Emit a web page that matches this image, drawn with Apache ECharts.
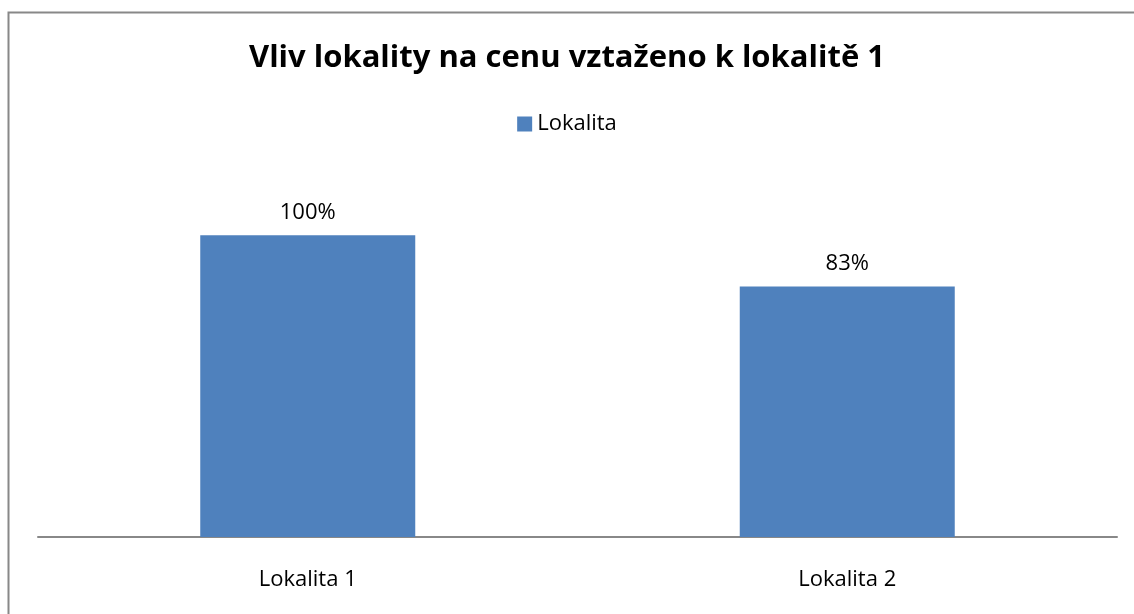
<!DOCTYPE html>
<html>
<head>
<meta charset="utf-8">
<script src="https://cdn.jsdelivr.net/npm/echarts@6/dist/echarts.min.js"></script>
<style>
  html, body { margin: 0; padding: 0; background: #fff; }
  #chart { width: 1134px; height: 614px; }
</style>
</head>
<body>
<div id="chart"></div>
<script>
const categories = ['Lokalita 1', 'Lokalita 2']
const values = [1.00, 0.83]
const seriesName = 'Lokalita'

const chart = echarts.init(document.getElementById('chart'))

const fontFamily = '"Open Sans", "Noto Sans", sans-serif'

const option = {
  animation: false,
  title: {
    text: 'Vliv lokality na cenu vztaženo k lokalitě 1',
    left: 'center',
    top: 38,
    textStyle: {
      fontFamily: fontFamily,
      fontSize: 31,
      fontWeight: 'bold',
      color: '#000'
    }
  },
  legend: {
    data: [seriesName],
    top: 108,
    left: 'center',
    icon: 'rect',
    itemWidth: 15,
    itemHeight: 15,
    itemGap: 8,
    textStyle: {
      fontFamily: fontFamily,
      fontSize: 22,
      color: '#000'
    }
  },
  graphic: [{
    type: 'rect',
    shape: { x: 8.5, y: 12.5, width: 1300, height: 800 },
    style: { fill: 'none', stroke: '#888', lineWidth: 2 },
    silent: true
  }],
  grid: {
    left: 38,
    right: 17,
    top: 175,
    bottom: 77
  },
  xAxis: {
    type: 'category',
    data: categories,
    axisLine: { lineStyle: { color: '#888', width: 2 } },
    axisTick: { show: false },
    axisLabel: {
      fontFamily: fontFamily,
      fontSize: 22,
      color: '#000',
      margin: 32
    }
  },
  yAxis: {
    type: 'value',
    min: 0,
    max: 1.2,
    show: false
  },
  series: [{
    name: seriesName,
    type: 'bar',
    data: values,
    barWidth: 215,
    itemStyle: { color: '#4f81bd' },
    label: {
      show: true,
      position: 'top',
      distance: 12,
      fontFamily: fontFamily,
      fontSize: 22,
      color: '#000',
      formatter: p => Math.round(p.value * 100) + '%'
    }
  }]
}

chart.setOption(option)
</script>
</body>
</html>
